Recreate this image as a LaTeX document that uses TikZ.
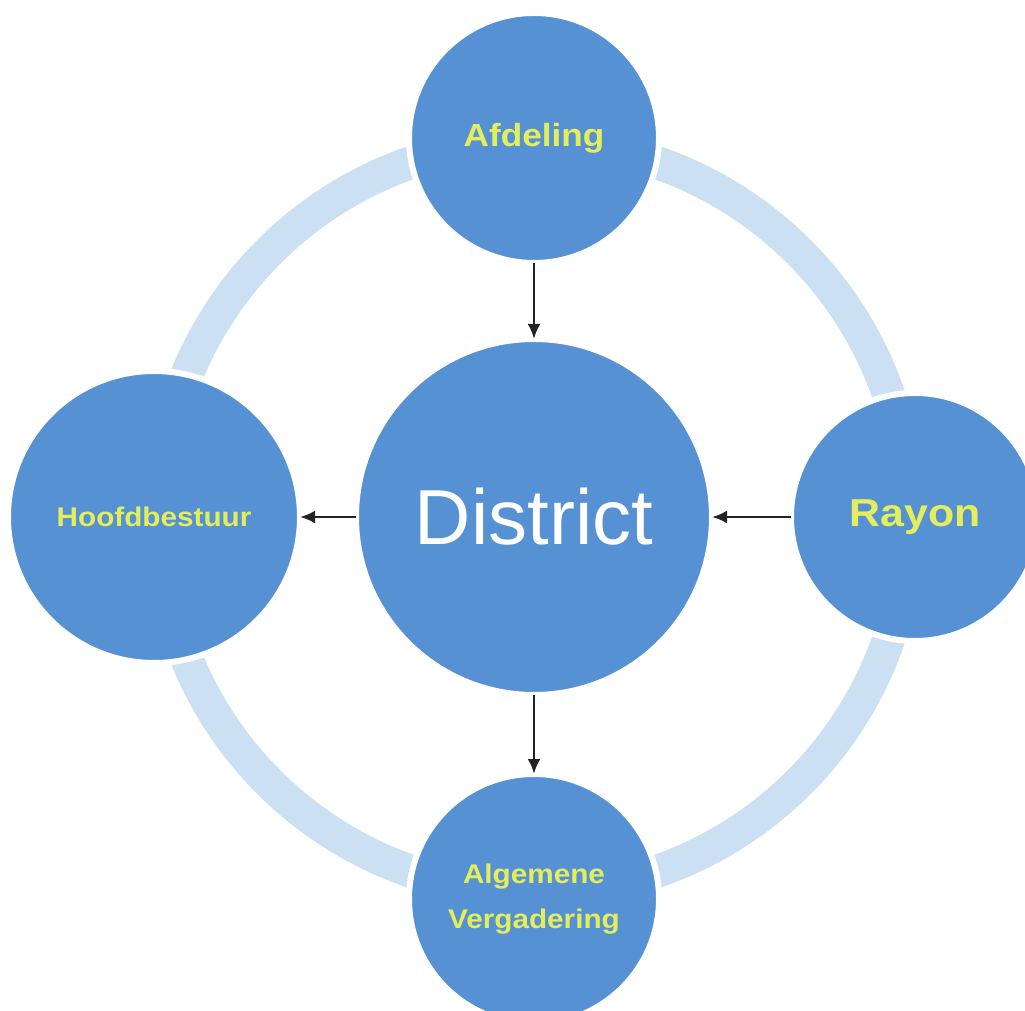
\documentclass[tikz,border=0pt]{standalone}
\usepackage{fontspec}
\setmainfont{Liberation Sans}
\newfontfamily\labfont{Liberation Sans}[FakeStretch=1.1]
\usetikzlibrary{arrows.meta}
\definecolor{bub}{RGB}{86,146,211}
\definecolor{ringc}{RGB}{203,224,242}
\definecolor{labc}{RGB}{228,238,92}
\definecolor{arr}{RGB}{35,35,35}
\begin{document}
\begin{tikzpicture}[x=1pt,y=1pt,
  bubble/.style={circle, fill=bub, draw=white, line width=6pt, inner sep=0pt, outer sep=0pt, text=labc, align=center},
  link/.style={draw=arr, line width=2.8pt, -{Latex[length=15pt,width=13pt]}}]
\useasboundingbox (0,0) rectangle (1025,1010);
\clip (0,0) rectangle (1025,1010);
\fill[white] (0,0) rectangle (1025,1010);
\draw[ringc, line width=33pt] (534,493) circle (375);
\node[bubble, minimum size=250pt, font=\fontsize{32}{38}\selectfont\labfont\bfseries] (afd) at (534,872) {Afdeling};
\node[bubble, minimum size=356pt, text=white, font=\fontsize{78}{90}\selectfont] (dis) at (534,493) {District};
\node[bubble, minimum size=292pt, font=\fontsize{27}{30}\selectfont\labfont\bfseries] (hfd) at (154,493) {Hoofdbestuur};
\node[bubble, minimum size=248pt, font=\fontsize{39}{44}\selectfont\labfont\bfseries] (ray) at (915,493) {Rayon};
\node[bubble, minimum size=250pt, font=\fontsize{27}{45}\selectfont\labfont\bfseries] (alg) at (534,111) {Algemene\\Vergadering};
\draw[link] (afd) -- (dis);
\draw[link] (dis) -- (hfd);
\draw[link] (ray) -- (dis);
\draw[link] (dis) -- (alg);
\end{tikzpicture}
\end{document}
